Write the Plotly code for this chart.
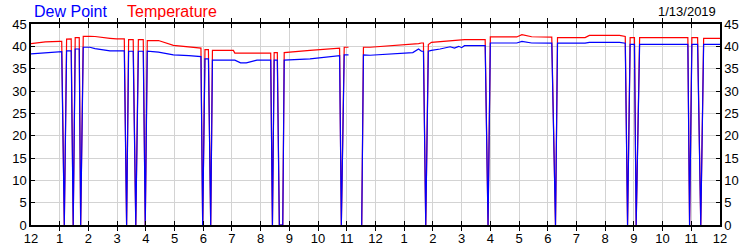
import plotly.graph_objects as go

# time in hours since midnight (None = no reading, line broken)
hours = [0.0, 0.5, 1.0, 1.07, 1.16, 1.24, 1.40, 1.47, 1.54, 1.68, 1.73, 1.82,
         2.05, 2.23, 2.75, 2.98, 3.25, 3.33, 3.40, 3.56, 3.65, 3.74, 3.91, 3.98,
         4.05, 4.44, 4.96, 5.5, 5.92, 5.98, 6.06, 6.18, 6.26, 6.32, 7.05, 7.1,
         7.3, 7.5, 7.87, 8.35, 8.41, 8.47, 8.58, 8.65, 8.77, 8.82, 9.72, 10.24,
         10.5, 10.75, 10.81, 10.91, 11.06, 11.3, 11.52, 11.58, 11.81, 12.97, 13.3,
         13.5, 13.6, 13.67, 13.75, 13.84, 13.95, 14.25, 14.42, 14.6, 14.75,
         14.9, 15.0, 15.1, 15.82, 15.92, 16.0, 16.92, 17.1, 17.44, 18.14,
         18.27, 18.34, 19.3, 19.45, 20.5, 20.7, 20.78, 20.87, 21.02, 21.08,
         21.2, 22.88, 22.94, 23.02, 23.22, 23.33, 23.43, 24.0]

temperature = [40.6, 41.0, 41.1, 41.1, 0, 41.6, 41.65, 0, 41.95, 41.95, 0, 42.25,
               42.25, 42.2, 41.8, 41.65, 41.65, 0, 41.5, 41.5, 0, 41.5, 41.5, 0,
               41.3, 41.3, 40.2, 39.9, 39.6, 0, 39.25, 39.25, 0, 39.1, 39.1, 38.5,
               38.5, 38.5, 38.5, 38.5, 0, 38.6, 38.6, 0, 0, 38.6, 39.1, 39.4,
               39.5, 39.6, 0, 39.8, 39.8, None, 0, 39.8, 39.8, 40.3, 40.5,
               40.6, 40.75, 40.75, 0, 40.4, 40.9, 41.1, 41.2, 41.3, 41.35,
               41.45, 41.5, 41.5, 41.5, 0, 42.1, 42.1, 42.6, 42.15, 42.05,
               0, 41.95, 41.95, 42.45, 42.45, 42.2, 0, 41.95, 41.95, 0,
               41.95, 41.95, 0, 41.95, 41.95, 0, 41.8, 41.8]

dew_point = [38.3, 38.6, 38.8, 38.8, 0, 39.0, 39.0, 0, 39.4, 39.4, 0, 39.8,
             39.8, 39.5, 39.0, 39.0, 39.0, 0, 38.9, 38.9, 0, 38.9, 38.9, 0,
             38.9, 38.7, 38.1, 37.9, 37.7, 0, 37.2, 37.2, 0, 36.9, 36.9, 36.9,
             36.3, 36.3, 36.9, 36.9, 0, 36.9, 36.9, 0, 0, 36.9, 37.2, 37.6,
             37.8, 37.9, 0, 38.1, 38.1, None, 0, 38.1, 38.0, 38.5, 38.6,
             39.4, 38.9, 38.9, 0, 38.9, 39.1, 39.4, 39.6, 39.9, 39.6,
             40.0, 39.7, 40.15, 40.15, 0, 40.75, 40.75, 41.1, 40.75, 40.7,
             0, 40.7, 40.7, 40.9, 40.9, 40.7, 0, 40.45, 40.45, 0,
             40.45, 40.45, 0, 40.45, 40.45, 0, 40.45, 40.45]

x_tick_vals = list(range(0, 25))
x_tick_text = ["12", "1", "2", "3", "4", "5", "6", "7", "8", "9", "10", "11",
               "12", "1", "2", "3", "4", "5", "6", "7", "8", "9", "10", "11", "12"]
y_tick_vals = [0, 5, 10, 15, 20, 25, 30, 35, 40, 45]

FONT = "Arial, Liberation Sans, sans-serif"

fig = go.Figure()
fig.add_trace(go.Scatter(x=hours, y=temperature, mode="lines", name="Temperature",
                         connectgaps=False,
                         line=dict(color="#ff0000", width=1.2)))
fig.add_trace(go.Scatter(x=hours, y=dew_point, mode="lines", name="Dew Point",
                         connectgaps=False,
                         line=dict(color="#0000ff", width=1.2), yaxis="y2"))

axis_common = dict(showline=True, linecolor="black", linewidth=1.5,
                   ticks="inside", ticklen=4, tickcolor="black", automargin=False,
                   tickfont=dict(family=FONT, size=13, color="black"))

fig.update_layout(
    width=750, height=250,
    margin=dict(l=31, r=30, t=24, b=25),
    paper_bgcolor="white", plot_bgcolor="white",
    showlegend=False,
    xaxis=dict(range=[0, 24], tickvals=x_tick_vals, ticktext=x_tick_text,
               showgrid=True, gridcolor="#d3d3d3", gridwidth=1, mirror="allticks",
               zeroline=False, ticklabelstandoff=1, **axis_common),
    yaxis=dict(range=[0, 45], tickvals=y_tick_vals, showgrid=True,
               gridcolor="#d3d3d3", gridwidth=1, mirror="allticks", zeroline=False,
               **axis_common),
    yaxis2=dict(range=[0, 45], tickvals=y_tick_vals, overlaying="y", side="right",
                showgrid=False, zeroline=False, **axis_common),
    annotations=[
        dict(text="Dew Point", x=0.002, y=1.06, xref="paper", yref="paper",
             xanchor="left", yanchor="middle", showarrow=False,
             font=dict(family=FONT, size=16, color="#0000ff")),
        dict(text="Temperature", x=0.1364, y=1.06, xref="paper", yref="paper",
             xanchor="left", yanchor="middle", showarrow=False,
             font=dict(family=FONT, size=16, color="#ff0000")),
        dict(text="1/13/2019", x=0.997, y=1.062, xref="paper", yref="paper",
             xanchor="right", yanchor="middle", showarrow=False,
             font=dict(family=FONT, size=13, color="black")),
    ],
)

fig.write_html("out.html")
